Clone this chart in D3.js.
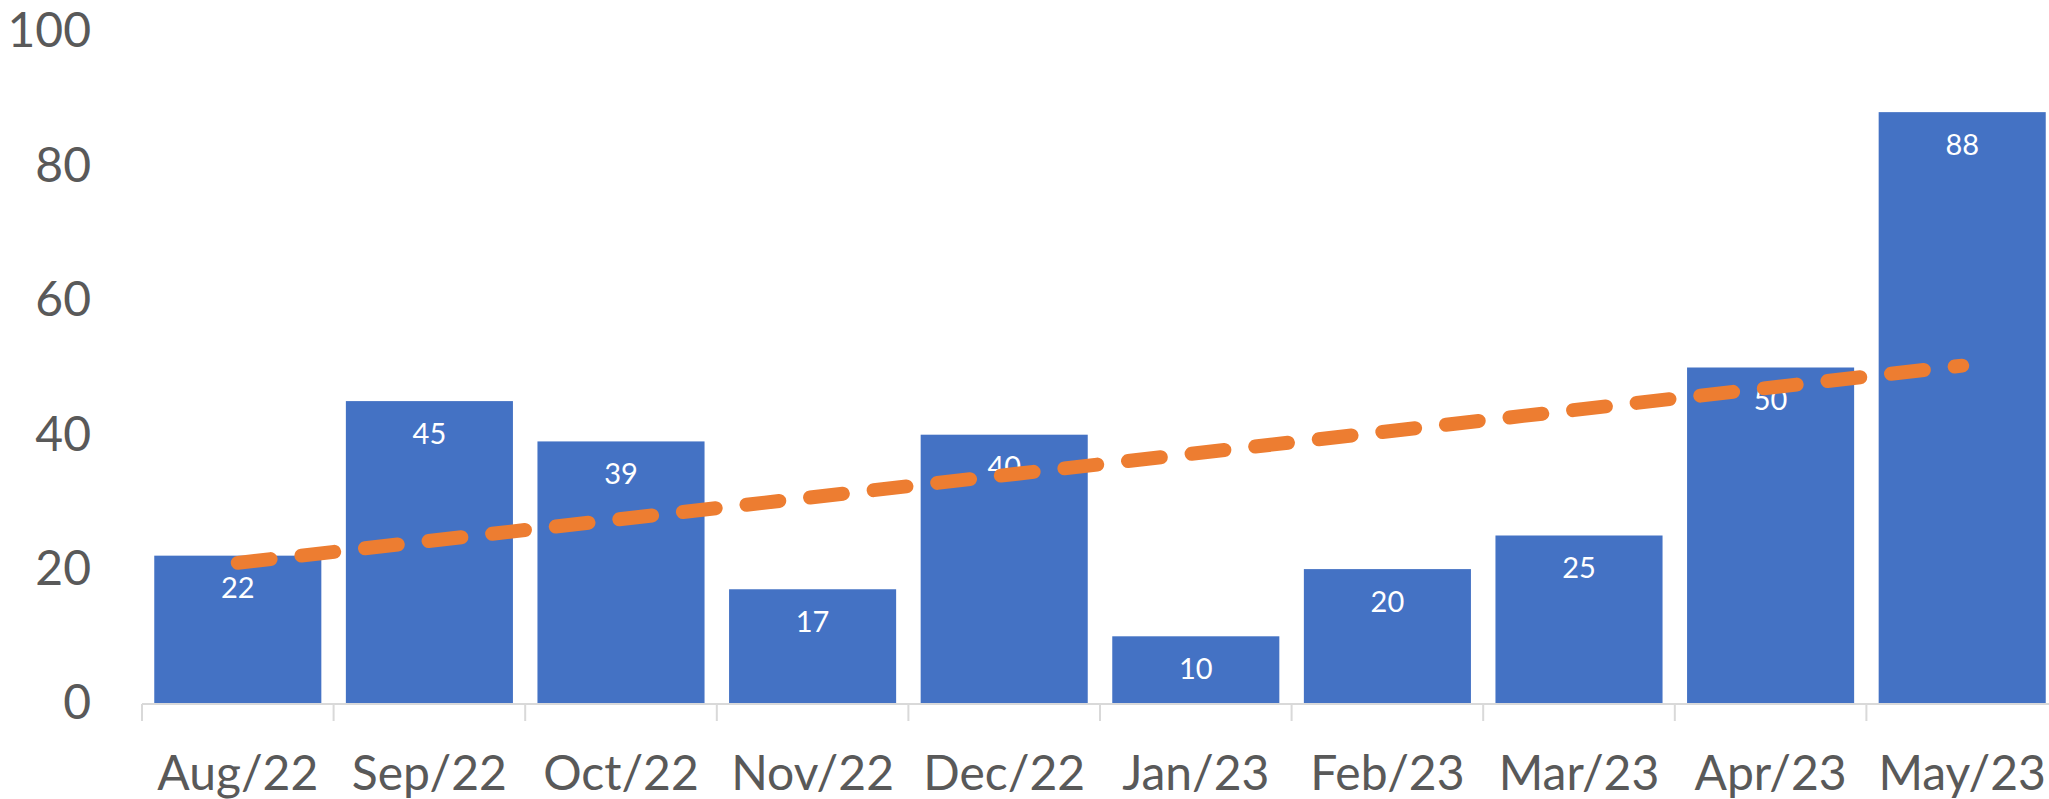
<!DOCTYPE html>
<html>
<head>
<meta charset="utf-8">
<script src="https://cdn.jsdelivr.net/npm/d3@7"></script>
<style>
  html, body { margin: 0; padding: 0; background: #ffffff; }
  svg { display: block; }
  text { font-family: Lato, "Open Sans", sans-serif; }
</style>
</head>
<body>
<svg id="chart" width="2049" height="799"></svg>
<script>
// Monthly counts
const months = ["Aug/22", "Sep/22", "Oct/22", "Nov/22", "Dec/22", "Jan/23", "Feb/23", "Mar/23", "Apr/23", "May/23"];
const counts = [22, 45, 39, 17, 40, 10, 20, 25, 50, 88];
const yTicks = [0, 20, 40, 60, 80, 100];

const W = 2049, H = 799;
const svg = d3.select("#chart");

const x = d3.scaleBand()
  .domain(months)
  .range([142, 2058])
  .paddingInner(0.128)
  .paddingOuter(0.064);

const y = d3.scaleLinear()
  .domain([0, 100])
  .range([703.5, 31.5]);

// Value axis labels (no line, no gridlines)
const yAxis = svg.append("g")
  .attr("transform", "translate(91,0)")
  .call(d3.axisLeft(y).tickValues(yTicks).tickSize(0).tickPadding(0));
yAxis.select(".domain").remove();
yAxis.selectAll("text")
  .attr("fill", "#595959")
  .style("font-size", "48px")
  .style("font-family", "Lato, 'Open Sans', sans-serif");

// Bars
svg.append("g")
  .selectAll("rect")
  .data(counts)
  .join("rect")
  .attr("x", (d, i) => x(months[i]))
  .attr("y", d => y(d))
  .attr("width", x.bandwidth())
  .attr("height", d => y(0) - y(d))
  .attr("fill", "#4472C4");

// Category axis: baseline, separators between categories, labels
const baseY = 704;
svg.append("line")
  .attr("x1", x.range()[0]).attr("x2", x.range()[1])
  .attr("y1", baseY).attr("y2", baseY)
  .attr("stroke", "#d9d9d9").attr("stroke-width", 2);

const step = x.step();
const bounds = months.map(m => x(m) - x.paddingInner() * step / 2);
svg.append("g")
  .selectAll("line")
  .data(bounds)
  .join("line")
  .attr("x1", d => d).attr("x2", d => d)
  .attr("y1", baseY).attr("y2", baseY + 17)
  .attr("stroke", "#d9d9d9").attr("stroke-width", 2);

const xAxis = svg.append("g")
  .attr("transform", `translate(0,${baseY})`)
  .call(d3.axisBottom(x).tickSize(0).tickPadding(0));
xAxis.select(".domain").remove();
xAxis.selectAll("text")
  .attr("y", 86)
  .attr("dy", 0)
  .attr("fill", "#595959")
  .style("font-size", "48px")
  .style("font-family", "Lato, 'Open Sans', sans-serif");

// Value labels inside the bar tops
svg.append("g")
  .selectAll("text")
  .data(counts)
  .join("text")
  .attr("x", (d, i) => x(months[i]) + x.bandwidth() / 2)
  .attr("y", d => y(d) + 32)
  .attr("dy", "0.36em")
  .attr("text-anchor", "middle")
  .attr("fill", "#ffffff")
  .style("font-size", "29px")
  .text(d => d);

// Linear trend (least squares over the monthly counts)
const idx = counts.map((d, i) => i + 1);
const mx = d3.mean(idx), my = d3.mean(counts);
const slope = d3.sum(idx, (v, i) => (v - mx) * (counts[i] - my)) / d3.sum(idx, v => (v - mx) ** 2);
const intercept = my - slope * mx;
const trend = [idx[0], idx[idx.length - 1]].map(v => ({ m: months[v - 1], v: intercept + slope * v }));

svg.append("path")
  .datum(trend)
  .attr("d", d3.line()
    .x(d => x(d.m) + x.bandwidth() / 2)
    .y(d => y(d.v)))
  .attr("fill", "none")
  .attr("stroke", "#ED7D31")
  .attr("stroke-width", 14)
  .attr("stroke-linecap", "round")
  .attr("stroke-dasharray", "33 31");
</script>
</body>
</html>
